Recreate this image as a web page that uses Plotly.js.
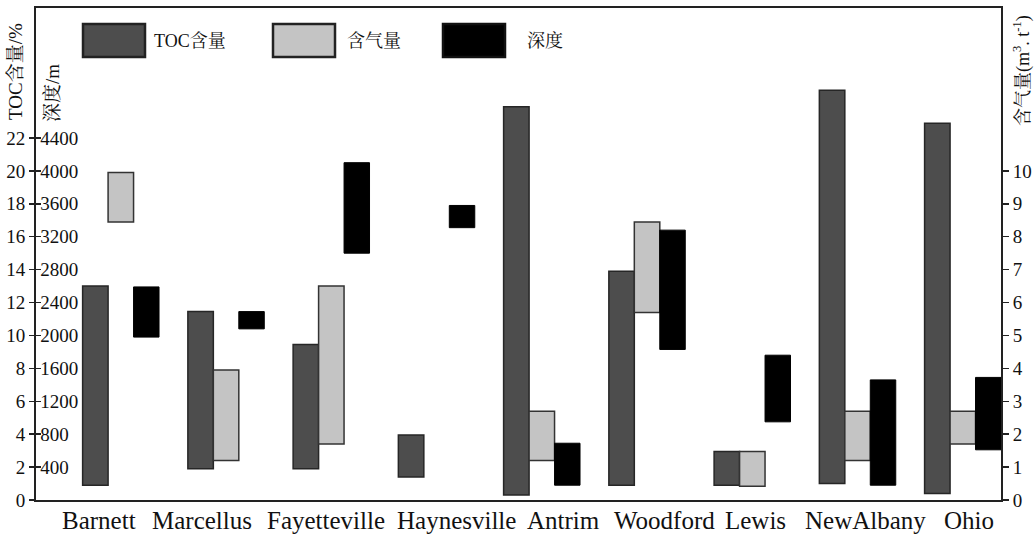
<!DOCTYPE html>
<html>
<head>
<meta charset="utf-8">
<script src="https://cdn.plot.ly/plotly-3.0.1.min.js"></script>
<style>html,body{margin:0;padding:0;background:#fff;}#chart{width:1036px;height:534px;}</style>
</head>
<body>
<div id="chart"></div>
<script>
// ---- data ----
const categories = ['Barnett','Marcellus','Fayetteville','Haynesville','Antrim','Woodford','Lewis','NewAlbany','Ohio'];
const tocMin   = [0.9, 1.9, 1.9, 1.4, 0.3, 0.9, 0.9, 1.0, 0.4];
const tocMax   = [13.0, 11.45, 9.45, 3.95, 23.9, 13.9, 2.95, 24.9, 22.9];
const gasMin   = [8.45, 1.2, 1.7, null, 1.2, 5.7, 0.42, 1.2, 1.7];
const gasMax   = [9.95, 3.95, 6.5, null, 2.7, 8.45, 1.47, 2.7, 2.7];
const depthMin = [1980, 2080, 3000, 3310, 180, 1830, 950, 180, 610];
const depthMax = [2590, 2290, 4100, 3580, 690, 3280, 1760, 1460, 1490];
const tocTicks   = [0,2,4,6,8,10,12,14,16,18,20,22];
const depthTicks = [0,400,800,1200,1600,2000,2400,2800,3200,3600,4000,4400];
const gasTicks   = [0,1,2,3,4,5,6,7,8,9,10];
const seriesNames = ['TOC含量','含气量','深度'];

// ---- layout geometry ----
const W = 1036, H = 534;
const mL = 36, mR = 35, mT = 8, mB = 34;
const pw = W - mL - mR, ph = H - mT - mB;
const px = v => (v - mL) / pw;          // pixel -> paper x
const py = v => (H - mB - v) / ph;      // pixel -> paper y

const serif = 'Liberation Serif, "Times New Roman", "Noto Serif CJK SC", "Noto Sans CJK SC", serif';
const colors = {toc:'#4d4d4d', gas:'#c4c4c4', depth:'#000000'};
const bw = 0.242;
// horizontal nudges (px) of the category labels, as typeset in the reference
const labelShift = [-22, -24, -6, 20, 21, 17, 3, 8, 6];

function span(lo, hi){ return lo.map((l,i)=> (l==null||hi[i]==null) ? null : hi[i]-l); }

const traces = [
  {type:'bar', x:categories, y:span(tocMin,tocMax), base:tocMin, yaxis:'y',
   width:bw, offset:-0.365, name:seriesNames[0],
   marker:{color:colors.toc, line:{color:'#262626', width:1.5}}},
  {type:'bar', x:categories, y:span(gasMin,gasMax), base:gasMin, yaxis:'y2',
   width:bw, offset:-0.123, name:seriesNames[1],
   marker:{color:colors.gas, line:{color:'#333333', width:1.5}}},
  {type:'bar', x:categories, y:span(depthMin,depthMax), base:depthMin, yaxis:'y3',
   width:bw, offset:0.119, name:seriesNames[2],
   marker:{color:colors.depth, line:{color:'#000', width:1}}}
];

const topToc = 29.9;
const axisLine = {showline:true, linecolor:'#222', linewidth:2, showgrid:false, zeroline:false};

const layout = {
  width:W, height:H,
  margin:{l:mL, r:mR, t:mT, b:mB, pad:0},
  paper_bgcolor:'#fff', plot_bgcolor:'#fff',
  showlegend:false,
  barmode:'overlay',
  font:{family:serif, color:'#111', size:19},
  xaxis:Object.assign({}, axisLine, {
    type:'category', range:[-0.808, 8.361], mirror:true, ticks:'', showticklabels:false
  }),
  yaxis:Object.assign({}, axisLine, {
    range:[0, topToc], tickmode:'array', tickvals:tocTicks, ticktext:tocTicks.map(String),
    ticks:'outside', ticklen:5, tickwidth:1.5, tickcolor:'#222',
    tickfont:{size:19, family:serif, color:'#111'}
  }),
  yaxis2:Object.assign({}, axisLine, {
    overlaying:'y', side:'right', range:[0, topToc/2],
    tickmode:'array', tickvals:gasTicks, ticktext:gasTicks.map(String),
    ticks:'outside', ticklen:6, tickwidth:1.5, tickcolor:'#222',
    tickfont:{size:19, family:serif, color:'#111'}
  }),
  yaxis3:{
    overlaying:'y', side:'left', range:[0, topToc*200], showgrid:false, zeroline:false, showline:false,
    tickmode:'array', tickvals:depthTicks, ticktext:depthTicks.map(String),
    ticks:'inside', ticklen:5, tickwidth:1.5, tickcolor:'#222', ticklabelposition:'inside',
    tickfont:{size:19, family:serif, color:'#111'}
  },
  shapes:[],
  annotations:[
    {xref:'paper', yref:'paper', x:px(15), y:py(72), text:'TOC含量/%', textangle:-90, showarrow:false,
     font:{size:19, family:serif, color:'#111'}, xanchor:'center', yanchor:'middle'},
    {xref:'paper', yref:'paper', x:px(53), y:py(93), text:'深度/m', textangle:-90, showarrow:false,
     font:{size:19, family:serif, color:'#111'}, xanchor:'center', yanchor:'middle'},
    {xref:'paper', yref:'paper', x:px(1022), y:py(70), text:'含气量(m<sup>3</sup>. t<sup>-1</sup>)', textangle:-90, showarrow:false,
     font:{size:18, family:serif, color:'#111'}, xanchor:'center', yanchor:'middle'}
  ]
};

// category labels under the axis
categories.forEach((c, i) => {
  layout.annotations.push({xref:'x', yref:'paper', x:c, y:py(520), xshift:labelShift[i],
    text:c, showarrow:false, xanchor:'center', yanchor:'middle',
    font:{size:25, family:serif, color:'#111'}});
});

// custom legend with large swatches, as in the reference
const legendItems = [
  {x0:83, x1:145, tx:152, fill:colors.toc, line:'#222'},
  {x0:273, x1:335, tx:345, fill:colors.gas, line:'#222'},
  {x0:443, x1:505, tx:525, fill:colors.depth, line:'#111'}
];
legendItems.forEach((it, i) => {
  layout.shapes.push({type:'rect', xref:'paper', yref:'paper',
    x0:px(it.x0), x1:px(it.x1), y0:py(57), y1:py(24),
    fillcolor:it.fill, line:{color:it.line, width:2.5}});
  layout.annotations.push({xref:'paper', yref:'paper', x:px(it.tx), y:py(41),
    text:seriesNames[i], showarrow:false, xanchor:'left', yanchor:'middle',
    font:{size:18, family:serif, color:'#111'}});
});

Plotly.newPlot('chart', traces, layout, {staticPlot:true, displayModeBar:false});
</script>
</body>
</html>
